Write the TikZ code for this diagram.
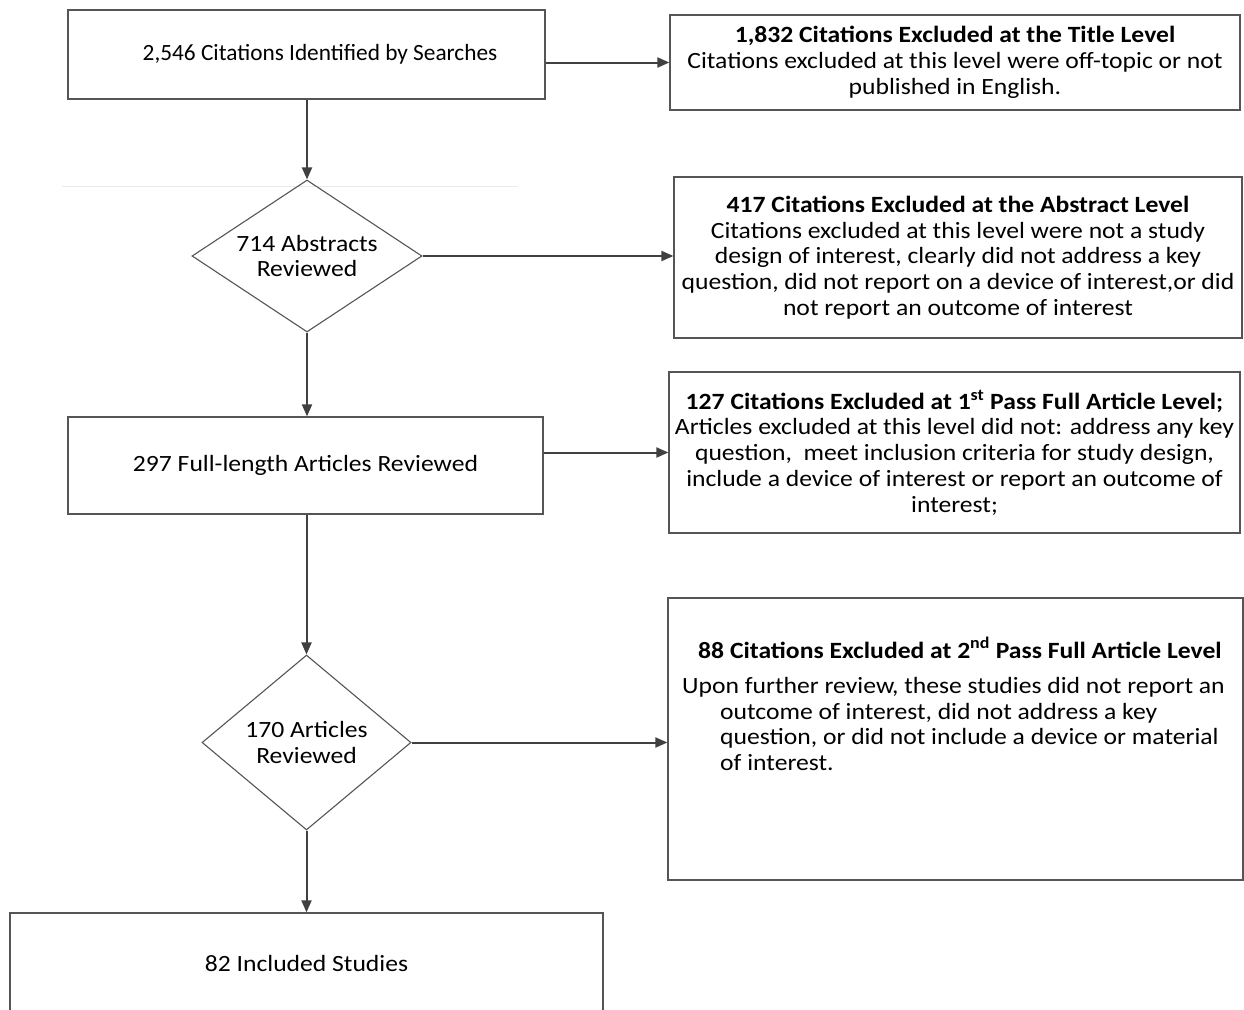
\documentclass[tikz,border=0pt]{standalone}
\usepackage{fontspec}
\setmainfont{Carlito}[FakeStretch=1.1]
\newfontfamily\narrowfont{Carlito}
\usetikzlibrary{shapes.geometric,arrows.meta}
\definecolor{linec}{HTML}{404040}
\definecolor{boxc}{HTML}{555555}
\definecolor{faint}{HTML}{EBEBEB}
\begin{document}
\begin{tikzpicture}[x=1pt,y=1pt,
  every node/.style={font=\fontsize{23.3}{25.7}\selectfont},
  box/.style={draw=boxc, line width=1.3pt, rectangle, inner sep=0pt, align=center},
  dia/.style={draw=boxc, line width=1.1pt, diamond, inner sep=0pt, align=center},
  arr/.style={draw=linec, line width=2pt, -{Triangle[length=12pt,width=10pt]}}
]
\useasboundingbox (0,0) rectangle (1244,-1009);
\fill[white] (0,0) rectangle (1244,-1009);
% faint line
\draw[faint, line width=1pt] (62,-186) -- (518,-186);

\node[box, minimum width=477, minimum height=89, font=\narrowfont\fontsize{23.3}{25.7}\selectfont] (b1) at (306.5,-54.5) {\hspace*{27pt}2,546 Citations Identified by Searches};
\node[box, minimum width=570, minimum height=95] (b2) at (955,-62.5)
  {\textbf{1,832 Citations Excluded at the Title Level}\\Citations excluded at this level were off-topic or not\\published in English.};
\node[dia, aspect=1.513, minimum width=230, minimum height=152] (d1) at (307,-256) {714 Abstracts\\Reviewed};
\node[box, minimum width=568, minimum height=161] (b3) at (958,-257.5)
  {\textbf{417 Citations Excluded at the Abstract Level}\\Citations excluded at this level were not a study\\design of interest, clearly did not address a key\\question, did not report on a device of interest,or did\\not report an outcome of interest};
\node[box, minimum width=475, minimum height=97] (b4) at (305.5,-465.5) {297 Full-length Articles Reviewed};
\node[box, minimum width=571, minimum height=161] (b5) at (954.5,-452.5)
  {\textbf{127 Citations Excluded at 1\textsuperscript{st} Pass Full Article Level;}\\Articles excluded at this level did not: address any key\\question,~ meet inclusion criteria for study design,\\include a device of interest or report an outcome of\\interest;};
\node[dia, aspect=1.194, minimum width=209, minimum height=175] (d2) at (306.5,-742.5) {170 Articles\\Reviewed};
\node[box, minimum width=575, minimum height=282] (b6) at (955.5,-739) {};
\node[anchor=base] (t6) at (960,-658) {\textbf{88 Citations Excluded at 2\textsuperscript{nd} Pass Full Article Level}};
\node[anchor=north west, inner sep=0pt, align=left] (t6b) at (682,-677)
  {Upon further review, these studies did not report an\\\hspace*{38pt}outcome of interest, did not address a key\\\hspace*{38pt}question, or did not include a device or material\\\hspace*{38pt}of interest.};
\node[box, minimum width=593, minimum height=100] (b7) at (306.5,-963) {82 Included Studies};

\draw[arr] (b1.east |- b2.west) -- (b2.west);
\draw[arr] (b1.south -| d1.north) -- (d1.north);
\draw[arr] (d1.east) -- (d1.east -| b3.west);
\draw[arr] (d1.south) -- (d1.south |- b4.north);
\draw[arr] (b4.east |- b5.west) -- (b5.west);
\draw[arr] (b4.south -| d2.north) -- (d2.north);
\draw[arr] (d2.east) -- (d2.east -| b6.west);
\draw[arr] (d2.south) -- (d2.south |- b7.north);
\end{tikzpicture}
\end{document}
